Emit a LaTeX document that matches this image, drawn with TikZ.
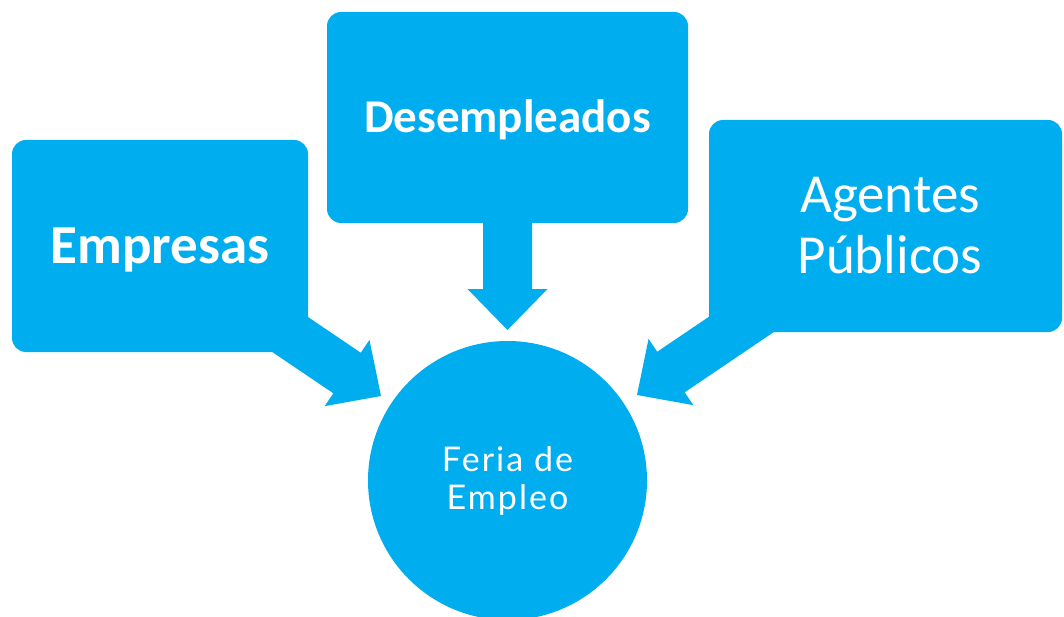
\documentclass[tikz,border=0pt]{standalone}
\usepackage{fontspec}
\usetikzlibrary{calc}
\newfontfamily\boxfont{Carlito}
\newfontfamily\circfont[LetterSpace=6]{Lato}
\definecolor{sky}{RGB}{0,173,239}
\newcommand\BlkArrow[2]{%
  \fill[sky] (#2)
    -- ($($(#2)!41pt!(#1)$)!40pt!90:(#2)$)
    -- ($($(#2)!41pt!(#1)$)!24.5pt!90:(#2)$)
    -- ($(#1)!24.5pt!90:(#2)$)
    -- ($(#1)!24.5pt!-90:(#2)$)
    -- ($($(#2)!41pt!(#1)$)!24.5pt!-90:(#2)$)
    -- ($($(#2)!41pt!(#1)$)!40pt!-90:(#2)$)
    -- cycle;}
\tikzset{
  box/.style={fill=sky, rounded corners=14pt, text=white, inner sep=0pt, align=center},
  hub/.style={circle, fill=sky, text=white, inner sep=0pt, minimum size=279pt, align=center,
    font=\circfont\fontsize{34}{38}\selectfont}
}
\begin{document}
\begin{tikzpicture}[x=1pt,y=-1pt]
\useasboundingbox (0,0) rectangle (1064,617);
\begin{scope}
\clip (0,0) rectangle (1064,617);
% boxes
\node[box, minimum width=296pt, minimum height=212pt, text height=35pt, text depth=0pt,
  font=\boxfont\bfseries\fontsize{55}{60}\selectfont] (emp) at (160,246) {Empresas};
\node[box, minimum width=361pt, minimum height=211pt, text height=30pt, text depth=0pt,
  font=\boxfont\bfseries\fontsize{47}{52}\selectfont] (des) at (507.5,117.5) {Desempleados};
\node[box, minimum width=353pt, minimum height=212pt,
  font=\boxfont\fontsize{55}{61}\selectfont] (age) at (885.5,226) {\hspace*{9pt}Agentes\\\hspace*{9pt}Públicos};
% hub
\node[hub] (feria) at (507.5,480.5) {Feria de\\Empleo};
% arrow anchors
\coordinate (empOut) at (248,306);
\coordinate (desOut) at (507.5,200);
\coordinate (ageOut) at (770,305);
\coordinate (tipL) at (381,396);
\coordinate (tipM) at (507.5,330);
\coordinate (tipR) at (637,395);
\BlkArrow{empOut}{tipL}
\BlkArrow{desOut}{tipM}
\BlkArrow{ageOut}{tipR}
\end{scope}
\end{tikzpicture}
\end{document}
